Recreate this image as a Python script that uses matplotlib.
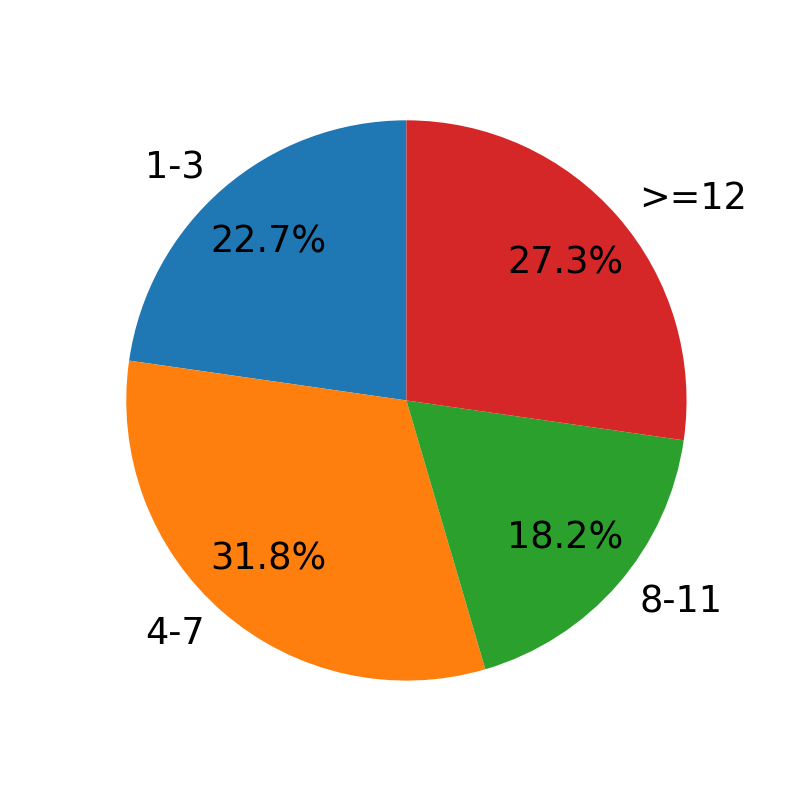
import matplotlib
matplotlib.use("Agg")
import matplotlib.pyplot as plt

labels = ["1-3", "4-7", "8-11", ">=12"]
counts = [5, 7, 4, 6]

fig, ax = plt.subplots(figsize=(7.93, 7.93), dpi=100)
ax.pie(counts, labels=labels, autopct="%1.1f%%", startangle=90,
       radius=1.147, pctdistance=0.75, textprops={"fontsize": 26.4})
fig.savefig("out.png")
